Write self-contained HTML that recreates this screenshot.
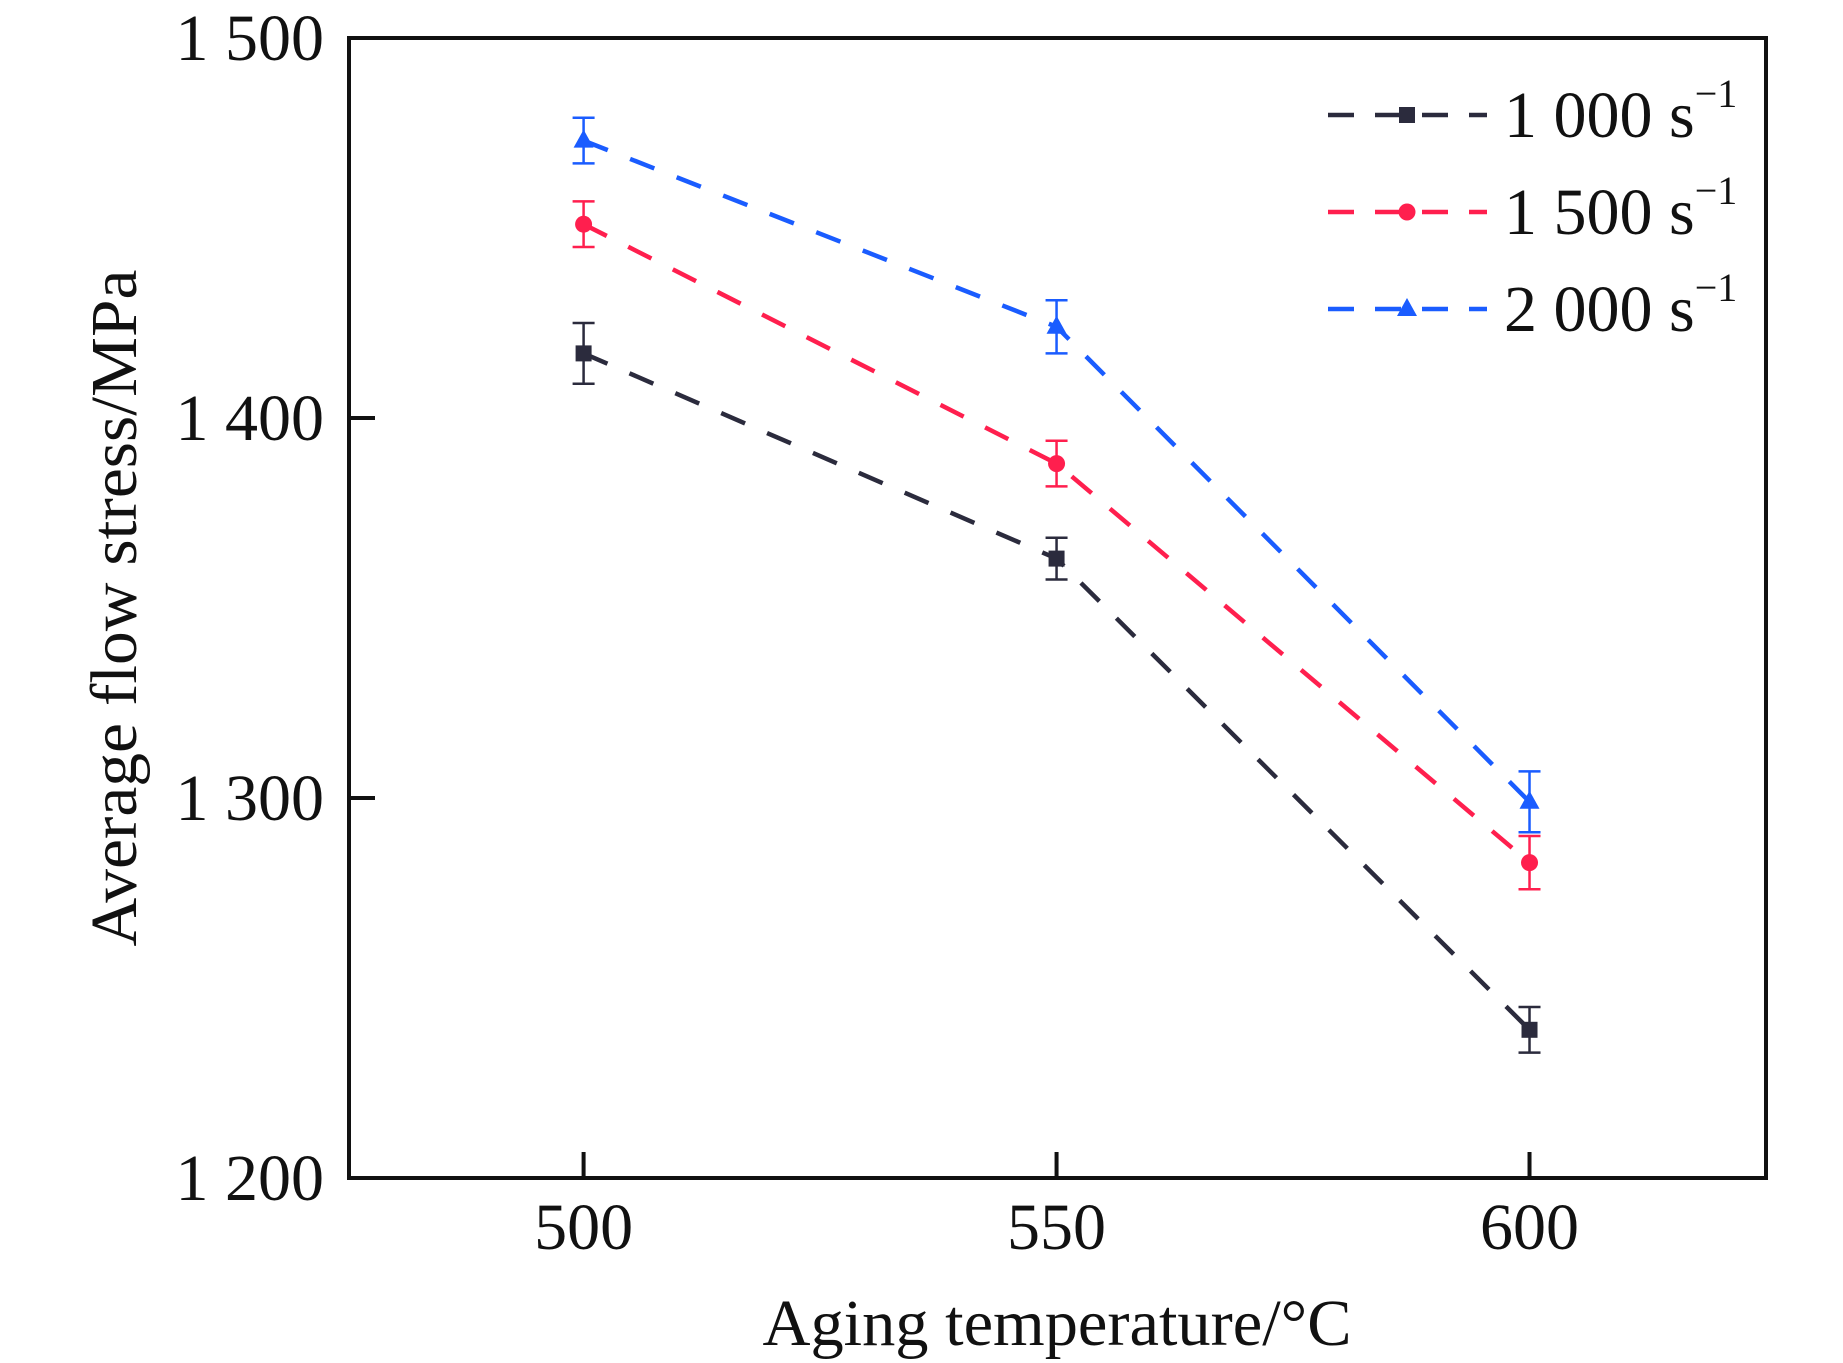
<!DOCTYPE html>
<html><head><meta charset="utf-8"><style>
html,body{margin:0;padding:0;background:#fff;}
svg{display:block;font-family:"Liberation Serif",serif;}
</style></head><body>
<svg id="chart" width="1843" height="1363" viewBox="0 0 1843 1363">
<g id="plot"></g>
</svg>
<script>
const temps = [500, 550, 600];
const xTicks = [500, 550, 600];
const yTicks = [1200, 1300, 1400, 1500];
const yTickLabels = ["1 200", "1 300", "1 400", "1 500"];
const s1000 = [1417, 1363, 1239];
const e1000 = [8, 5.5, 6];
const s1500 = [1451, 1388, 1283];
const e1500 = [6, 6, 7];
const s2000 = [1473, 1424, 1299];
const e2000 = [6, 7, 8];
const seriesLabels = ["1 000", "1 500", "2 000"];

const L=349, R=1766, T=38, B=1178;
const xMin=475.2, xMax=625, yMin=1200, yMax=1500;
const X = v => L + (v-xMin)/(xMax-xMin)*(R-L);
const Y = v => B - (v-yMin)/(yMax-yMin)*(B-T);
const NS="http://www.w3.org/2000/svg";
const g=document.getElementById('plot');
function mk(tag, attrs, parent){const e=document.createElementNS(NS,tag);for(const k in attrs)e.setAttribute(k,attrs[k]);(parent||g).appendChild(e);return e;}

const frame=mk('rect',{x:L,y:T,width:R-L,height:B-T,fill:'none',stroke:'#111',"stroke-width":4});



xTicks.forEach((t,i)=>{
  const tk=mk('line',{x1:X(t),x2:X(t),y1:B,y2:B-26,stroke:'#111',"stroke-width":4});
  
  
  const tx=mk('text',{x:X(t),y:1249,"font-size":66,"text-anchor":"middle",fill:'#111'});
  tx.textContent=t;
  
  
});
yTicks.forEach((t,i)=>{
  const tk=mk('line',{x1:L,x2:L+26,y1:Y(t),y2:Y(t),stroke:'#111',"stroke-width":4});
  
  
  const tx=mk('text',{x:324,y:Y(t)+22,"font-size":66,"text-anchor":"end",fill:'#111'});
  tx.textContent=yTickLabels[i];
  
  
});

const xt=mk('text',{x:1057,y:1345,"font-size":66,"text-anchor":"middle",fill:'#111',textLength:589,lengthAdjust:'spacingAndGlyphs'});
xt.textContent="Aging temperature/°C";


const yt=mk('text',{x:0,y:0,"font-size":66,"text-anchor":"middle",fill:'#111',transform:'translate(136,608) rotate(-90)',textLength:677,lengthAdjust:'spacingAndGlyphs'});
yt.textContent="Average flow stress/MPa";



const series=[
  {vals:s1000,errs:e1000,color:'#2b2b3d',marker:'square',name:'series-1000'},
  {vals:s1500,errs:e1500,color:'#ff1f4e',marker:'circle',name:'series-1500'},
  {vals:s2000,errs:e2000,color:'#1a5cff',marker:'triangle',name:'series-2000'}
];
function marker(type,cx,cy,color,parent){
  let m;
  if(type==='square') m=mk('rect',{x:cx-8,y:cy-8,width:16,height:16,fill:color},parent);
  else if(type==='circle') m=mk('circle',{cx:cx,cy:cy,r:8.5,fill:color},parent);
  else m=mk('polygon',{points:`${cx},${cy-11} ${cx-10},${cy+7} ${cx+10},${cy+7}`,fill:color},parent);
  return m;
}
series.forEach((s,si)=>{
  const grp=mk('g',{});
  
  
  const pts=temps.map((t,i)=>X(t)+','+Y(s.vals[i])).join(' ');
  const ln=mk('polyline',{points:pts,fill:'none',stroke:s.color,"stroke-width":4.5,"stroke-dasharray":"26 24"},grp);
  
  
  temps.forEach((t,i)=>{
    const cx=X(t), v=s.vals[i], e=s.errs[i];
    const eb=mk('path',{d:`M${cx},${Y(v+e)}V${Y(v-e)}M${cx-11},${Y(v+e)}H${cx+11}M${cx-11},${Y(v-e)}H${cx+11}`,stroke:s.color,"stroke-width":2.5,fill:'none'},grp);
    
    
    const m=marker(s.marker,cx,Y(v),s.color,grp);
    
    
  });
  const ly=115+si*97;
  const lg=mk('g',{});
  
  
  mk('line',{x1:1328,x2:1487,y1:ly,y2:ly,stroke:s.color,"stroke-width":4.5,"stroke-dasharray":"26 21"},lg);
  marker(s.marker,1407,ly,s.color,lg);
  const tx=mk('text',{x:1504,y:ly+22,"font-size":66,fill:'#111'},lg);
  tx.textContent=seriesLabels[si]+" s";
  const sup=mk('tspan',{dy:-30,"font-size":40},tx);
  sup.textContent="−1";
});
</script>
</body></html>
